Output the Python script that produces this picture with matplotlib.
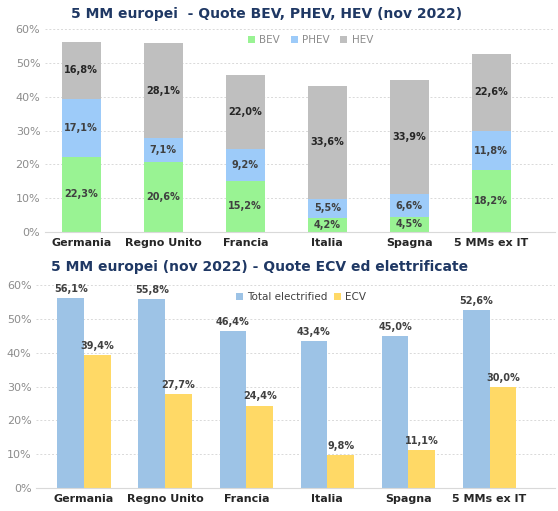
import matplotlib.pyplot as plt
import numpy as np

countries = ["Germania", "Regno Unito", "Francia", "Italia", "Spagna", "5 MMs ex IT"]
bev = [22.3, 20.6, 15.2, 4.2, 4.5, 18.2]
phev = [17.1, 7.1, 9.2, 5.5, 6.6, 11.8]
hev = [16.8, 28.1, 22.0, 33.6, 33.9, 22.6]
total_electrified = [56.1, 55.8, 46.4, 43.4, 45.0, 52.6]
ecv = [39.4, 27.7, 24.4, 9.8, 11.1, 30.0]
yticks = [0, 10, 20, 30, 40, 50, 60]

title_col = "#1F3864"
lab_col = "#404040"
tick_col = "#8C8C8C"


def fmt(v):
    return f"{v:.1f}%".replace(".", ",")


def style_axes(ax):
    ax.set_ylim(0, 60)
    ax.set_yticks(yticks)
    ax.set_yticklabels([f"{t}%" for t in yticks], color=tick_col, fontsize=8)
    ax.yaxis.grid(True, color="#D9D9D9", linestyle=(0, (2, 2)), linewidth=0.7)
    ax.set_axisbelow(True)
    for s in ["top", "right", "left"]:
        ax.spines[s].set_visible(False)
    ax.spines["bottom"].set_color("#D9D9D9")
    ax.tick_params(axis="both", length=0)
    ax.tick_params(axis="x", pad=4)
    ax.set_xticks(range(len(countries)))
    ax.set_xticklabels(countries, fontsize=8, fontweight="bold", color="#262626")


fig = plt.figure(figsize=(5.58, 5.11), dpi=100)

# top chart: stacked shares
ax1 = fig.add_axes([0.081, 0.546, 0.914, 0.397])
x = np.arange(len(countries))
w = 0.48
ax1.bar(x, bev, w, color="#99F393", label="BEV")
ax1.bar(x, phev, w, bottom=bev, color="#9DCBF9", label="PHEV")
base = np.array(bev) + np.array(phev)
ax1.bar(x, hev, w, bottom=base, color="#BFBFBF", label="HEV")
for i in range(len(countries)):
    ax1.text(x[i], bev[i] / 2, fmt(bev[i]), ha="center", va="center",
             fontsize=7, fontweight="bold", color=lab_col)
    ax1.text(x[i], bev[i] + phev[i] / 2, fmt(phev[i]), ha="center", va="center",
             fontsize=7, fontweight="bold", color=lab_col)
    ax1.text(x[i], base[i] + hev[i] / 2, fmt(hev[i]), ha="center", va="center",
             fontsize=7, fontweight="bold", color="#262626")
style_axes(ax1)
ax1.set_xlim(-0.44, 5.78)
ax1.legend(loc="center", bbox_to_anchor=(0.52, 0.945), ncol=3, frameon=False,
           fontsize=7.5, handlelength=0.7, handleheight=0.7, columnspacing=1.0,
           handletextpad=0.4, labelcolor=tick_col)
fig.text(0.477, 0.972, "5 MM europei  - Quote BEV, PHEV, HEV (nov 2022)",
         ha="center", va="center", fontsize=10, fontweight="bold", color=title_col)

# bottom chart: grouped bars
ax2 = fig.add_axes([0.065, 0.045, 0.93, 0.397])
bw = 0.33
ax2.bar(x - bw / 2, total_electrified, bw, color="#9DC3E6", label="Total electrified")
ax2.bar(x + bw / 2, ecv, bw, color="#FFD966", label="ECV")
for i in range(len(countries)):
    ax2.text(x[i] - bw / 2, total_electrified[i] + 1.2, fmt(total_electrified[i]),
             ha="center", va="bottom", fontsize=7, fontweight="bold", color=lab_col)
    ax2.text(x[i] + bw / 2, ecv[i] + 1.2, fmt(ecv[i]),
             ha="center", va="bottom", fontsize=7, fontweight="bold", color=lab_col)
style_axes(ax2)
ax2.set_xlim(-0.59, 5.81)
ax2.legend(loc="center", bbox_to_anchor=(0.51, 0.94), ncol=2, frameon=False,
           fontsize=7.5, handlelength=0.7, handleheight=0.7, columnspacing=0.6,
           handletextpad=0.4, labelcolor=lab_col)
fig.text(0.466, 0.478, "5 MM europei (nov 2022) - Quote ECV ed elettrificate",
         ha="center", va="center", fontsize=10, fontweight="bold", color=title_col)

fig.savefig("out.png", dpi=100)
